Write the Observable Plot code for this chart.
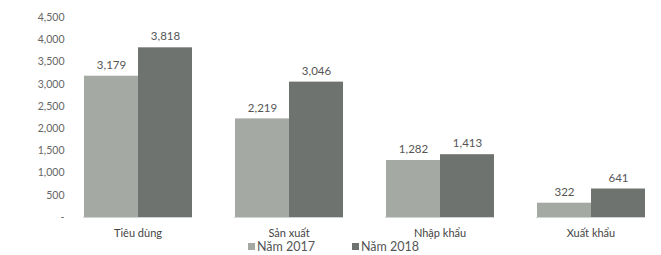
<!DOCTYPE html>
<html>
<head>
<meta charset="utf-8">
<script src="https://cdn.jsdelivr.net/npm/d3@7"></script>
<script src="https://cdn.jsdelivr.net/npm/@observablehq/plot@0.6"></script>
<style>
  html, body { margin: 0; padding: 0; background: #fff; overflow: hidden; width: 661px; height: 255px; }
  #chart { width: 666px; }
  .legend { font-family: Lato, "Open Sans", sans-serif; font-size: 12.5px; color: #555; height: 15px; line-height: 13px; position: relative; }
  .legend span { position: absolute; top: 0; white-space: nowrap; }
  .sw { display: inline-block; width: 7px; height: 7px; margin-right: 2px; vertical-align: 1px; }
</style>
</head>
<body>
<div id="chart"></div>
<script>
const categories = ["Tiêu dùng", "Sản xuất", "Nhập khẩu", "Xuất khẩu"];
const series = ["Năm 2017", "Năm 2018"];
const values2017 = [3179, 2219, 1282, 322];
const values2018 = [3818, 3046, 1413, 641];
const yTicks = [0, 500, 1000, 1500, 2000, 2500, 3000, 3500, 4000, 4500];
const colors = ["#a4a9a4", "#6e736f"];

const data = [];
categories.forEach((c, i) => {
  data.push({cat: c, year: series[0], value: values2017[i]});
  data.push({cat: c, year: series[1], value: values2018[i]});
});

const fmt = d3.format(",");
const chart = Plot.plot({
  width: 666,
  height: 240,
  marginLeft: 62,
  marginRight: 0,
  marginTop: 17,
  marginBottom: 23,
  style: {fontFamily: "Lato, 'Open Sans', sans-serif", fontSize: "11px", color: "#555", background: "#fff"},
  fx: {domain: categories, paddingInner: 0.28, paddingOuter: 0.14, label: null, axis: null},
  x: {domain: series, padding: 0, axis: null},
  y: {domain: [0, 4500], ticks: yTicks, label: null, axis: null},
  color: {domain: series, range: colors},
  marks: [
    Plot.axisY({ticks: yTicks, tickFormat: d => d === 0 ? "-" : fmt(d), tickSize: 0, tickPadding: 19, label: null, fontSize: 10.5, fill: "#666"}),
    Plot.axisFx({anchor: "bottom", tickSize: 0, tickPadding: 12, label: null, fontSize: 11, fill: "#444"}),
    Plot.barY(data, {fx: "cat", x: "year", y: "value", fill: "year"}),
    Plot.text(data, {fx: "cat", x: "year", y: "value", text: d => fmt(d.value), dy: -11, fontSize: 11.5, fill: "#555"}),
    Plot.ruleY([0], {stroke: "#d0d4d0"}),
    Plot.ruleX([0], {frameAnchor: "left", stroke: "#d8dcd8"})
  ]
});
document.getElementById("chart").appendChild(chart);

const legend = document.createElement("div");
legend.className = "legend";
const lefts = [248, 352];
series.forEach((s, i) => {
  const span = document.createElement("span");
  span.style.left = lefts[i] + "px";
  const sw = document.createElement("span");
  sw.className = "sw";
  sw.style.position = "static";
  sw.style.background = colors[i];
  span.appendChild(sw);
  span.appendChild(document.createTextNode(s));
  legend.appendChild(span);
});
document.body.appendChild(legend);
</script>
</body>
</html>
